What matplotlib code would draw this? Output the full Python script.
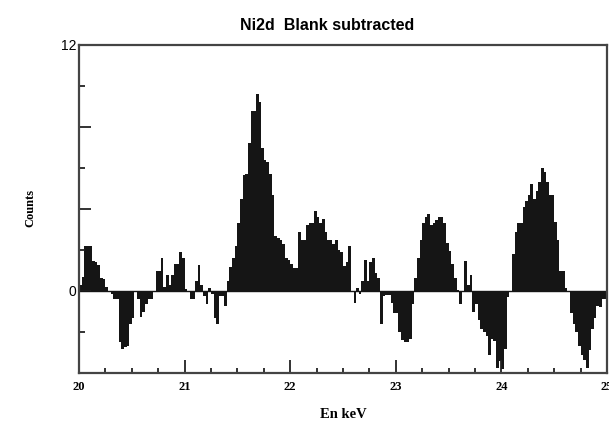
import matplotlib
matplotlib.use("Agg")
import matplotlib.pyplot as plt
import numpy as np

# Histogram: bin start energy 20.0 keV, bin width 0.025 keV
e_start = 20.0
bin_width = 0.025
counts = [
    0.3, 0.7, 2.2, 2.2, 2.2, 1.46, 1.4, 1.25, 0.65, 0.6,
    0.2, 0.0, -0.15, -0.4, -0.4, -2.5, -2.85, -2.75, -2.7, -1.6,
    -1.3, 0.0, -0.4, -1.27, -1.0, -0.65, -0.4, -0.4, 0.0, 1.0,
    1.0, 1.6, 0.2, 0.8, 0.3, 0.8, 1.3, 1.3, 1.9, 1.6,
    0.1, 0.0, -0.4, -0.4, 0.5, 1.27, 0.3, -0.25, -0.65, 0.15,
    -0.15, -1.3, -1.6, -0.25, -0.25, -0.75, 0.5, 1.15, 1.6, 2.2,
    3.3, 4.5, 5.65, 5.7, 7.2, 8.8, 8.8, 9.6, 9.2, 7.0,
    6.4, 6.3, 5.7, 4.7, 2.7, 2.6, 2.5, 2.3, 1.6, 1.5,
    1.3, 1.1, 1.1, 2.9, 2.5, 2.5, 3.2, 3.3, 3.3, 3.9,
    3.6, 3.3, 3.5, 2.9, 2.5, 2.5, 2.3, 2.5, 2.0, 1.9,
    1.2, 1.4, 2.2, 0.0, -0.6, 0.15, -0.15, 0.5, 1.5, 0.5,
    1.4, 1.6, 0.9, 0.65, -1.6, -0.25, -0.2, -0.2, -0.6, -1.05,
    -1.05, -2.0, -2.4, -2.5, -2.5, -2.35, -0.65, 0.65, 1.6, 2.5,
    3.3, 3.6, 3.77, 3.2, 3.3, 3.45, 3.6, 3.6, 3.3, 2.35,
    1.95, 1.3, 0.65, 0.05, -0.65, 0.0, 1.45, 0.3, 0.8, -1.0,
    -0.65, -1.4, -1.85, -2.0, -2.2, -3.1, -2.35, -2.45, -3.75, -3.4,
    -3.8, -2.85, -0.3, 0.0, 1.8, 2.9, 3.3, 3.3, 4.1, 4.4,
    4.7, 5.2, 4.5, 4.9, 5.3, 6.0, 5.8, 5.3, 4.7, 4.7,
    3.35, 2.5, 1.0, 1.0, 0.15, 0.0, -1.05, -1.6, -2.0, -2.7,
    -3.1, -3.35, -3.75, -2.9, -1.85, -1.3, -0.75, -0.8, -0.4, -0.4,
]
x_ticks = [20, 21, 22, 23, 24, 25]
y_tick_labels = {12: "12", 0: "0"}

edges = e_start + bin_width * np.arange(len(counts) + 1)

fig = plt.figure(figsize=(6.09, 4.26), dpi=100)
ax = fig.add_axes([79 / 609, 1 - 373 / 426, (607 - 79) / 609, (373 - 45) / 426])

ax.stairs(counts, edges, baseline=0, fill=True, color="#151515", linewidth=0)
ax.axhline(0, color="#151515", linewidth=1.0)

ax.set_xlim(20, 25)
ax.set_ylim(-4, 12)

for s in ax.spines.values():
    s.set_color("#444444")
    s.set_linewidth(1.6)

ax.set_xticks(x_ticks)
ax.set_xticks(np.arange(20, 25.01, 0.25), minor=True)
ax.set_xticklabels([str(t) for t in x_ticks], fontfamily="Liberation Serif",
                   fontsize=9, fontweight="bold")
ax.tick_params(axis="x", which="major", direction="in", length=9.5, width=1.3,
               color="#222222", pad=6)
ax.tick_params(axis="x", which="minor", direction="in", length=3.6, width=1.3,
               color="#222222")

ax.set_yticks([-4, 0, 4, 8, 12])
ax.set_yticks([-2, 2, 6, 10], minor=True)
ax.set_yticklabels([y_tick_labels.get(v, "") for v in [-4, 0, 4, 8, 12]],
                   fontfamily="Liberation Sans", fontsize=10)
ax.tick_params(axis="y", which="major", direction="in", length=8.5, width=1.3,
               color="#222222", pad=2)
ax.tick_params(axis="y", which="minor", direction="in", length=4.3, width=1.3,
               color="#222222")

fig.text(327 / 609, 1 - 25 / 426, "Ni2d  Blank subtracted", ha="center", va="center",
         fontfamily="Liberation Sans", fontsize=11.5, fontweight="bold")
fig.text(343 / 609, 1 - 415 / 426, "En keV", ha="center", va="center",
         fontfamily="Liberation Serif", fontsize=10.5, fontweight="bold")
fig.text(30 / 609, 1 - 208 / 426, "Counts", ha="center", va="center", rotation=90,
         fontfamily="Liberation Serif", fontsize=9, fontweight="bold")

fig.savefig("out.png", dpi=100)
